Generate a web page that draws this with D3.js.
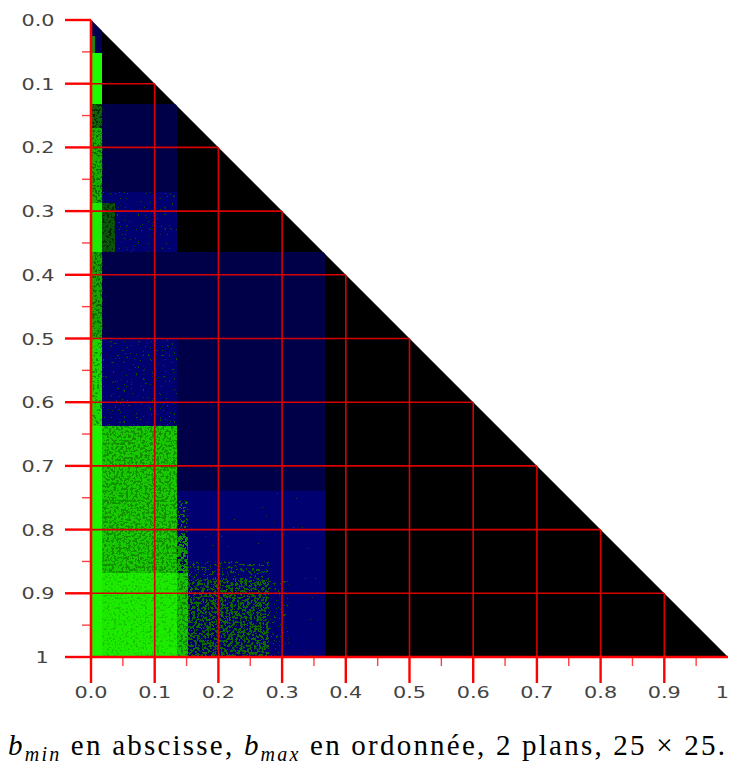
<!DOCTYPE html>
<html><head><meta charset="utf-8">
<script src="https://cdn.jsdelivr.net/npm/d3@7"></script>
<style>body{margin:0;background:#fff} svg{display:block}</style>
</head><body><svg id="chart" width="731" height="766"></svg>
<script>
// ---- data ----
const tickValues = [0, 0.1, 0.2, 0.3, 0.4, 0.5, 0.6, 0.7, 0.8, 0.9, 1];
const tickLabels = ["0.0", "0.1", "0.2", "0.3", "0.4", "0.5", "0.6", "0.7", "0.8", "0.9", "1"];
const minorTickValues = [0.05, 0.15, 0.25, 0.35, 0.45, 0.55, 0.65, 0.75, 0.85, 0.95];
const gridValues = [0.1, 0.2, 0.3, 0.4, 0.5, 0.6, 0.7, 0.8, 0.9];

const regionX0 = [0,     0,     0,     0,     0,     0.018, 0.018, 0,     0,     0,     0,     0,     0.018, 0.018, 0,     0.018, 0.135, 0.135, 0.135, 0.135, 0.152, 0.152, 0.28];
const regionX1 = [0.018, 0.006, 0.018, 0.135, 0.367, 0.135, 0.038, 0.018, 0.018, 0.018, 0.018, 0.018, 0.135, 0.135, 0.018, 0.135, 0.367, 0.152, 0.152, 0.152, 0.28,  0.28,  0.31];
const regionY0 = [0,     0.025, 0.052, 0.132, 0.364, 0.27,  0.287, 0.132, 0.17,  0.287, 0.364, 0.50,  0.50,  0.637, 0.637, 0.868, 0.74,  0.755, 0.81,  0.868, 0.85,  0.879, 0.879];
const regionY1 = [0.052, 0.052, 0.132, 0.364, 1.0,   0.364, 0.364, 0.17,  0.287, 0.364, 0.50,  0.637, 0.637, 0.868, 1.0,   1.0,   1.0,   0.81,  0.868, 1.0,   0.879, 1.0,   1.0];
const regionBaseG  = [0,   140, 250, 0,  0,  0,   85,  100, 175, 235, 165, 215, 0,   200, 245, 235, 0,   0,   0,   195, 0,   0,   0];
const regionBaseB  = [78,  20,  0,   72, 72, 112, 10,  10,  0,   0,   0,   0,   112, 0,   0,   0,   112, 110, 95,  0,   110, 100, 110];
const regionSpeckG = [0,   0,   0,   0,  0,  85,  40,  40,  110, 0,   105, 150, 85,  145, 0,   200, 80,  120, 150, 135, 100, 105, 90];
const regionShare  = [0,   0,   0,   0,  0,  0.1, 0.35,0.35,0.4, 0,   0.4, 0.3, 0.12,0.45,0,   0.3, 0.04,0.35,0.6, 0.4, 0.25,0.5, 0.15];

const captionParts = [
  {t: "b", italic: true, sub: false},
  {t: "min", italic: true, sub: true},
  {t: " en abscisse, ", italic: false, sub: false},
  {t: "b", italic: true, sub: false},
  {t: "max", italic: true, sub: true},
  {t: " en ordonnée, 2 plans, 25 × 25.", italic: false, sub: false}
];

// ---- drawing ----
const svg = d3.select("#chart");
const x = d3.scaleLinear().domain([0, 1]).range([91, 728]);
const y = d3.scaleLinear().domain([0, 1]).range([20, 657]);
const planeColor = (g, b) => d3.rgb(Math.round(g * 0.12), g, b);

function zUpper(q) {
  const qq = Math.min(Math.max(q, 1e-4), 1 - 1e-4);
  const s = qq < 0.5 ? 1 : -1;
  const p = qq < 0.5 ? qq : 1 - qq;
  const t = Math.sqrt(-2 * Math.log(p));
  return s * (t - (2.515517 + 0.802853 * t + 0.010328 * t * t) / (1 + 1.432788 * t + 0.189269 * t * t + 0.001308 * t * t * t));
}

const defs = svg.append("defs");
const tri = [[0, 0], [0, 1], [1, 1]].map(d => [x(d[0]), y(d[1])]);
defs.append("clipPath").attr("id", "tri")
  .append("polygon").attr("points", tri.map(p => p.join(",")).join(" "));

const idx = regionX0.map((d, i) => i);
idx.filter(i => regionShare[i] > 0).forEach(i => {
  const thr = 0.5 + 0.17 * zUpper(regionShare[i]);
  const S = 40;
  const f = defs.append("filter").attr("id", "sp" + i)
    .attr("x", 0).attr("y", 0).attr("width", 1).attr("height", 1)
    .attr("color-interpolation-filters", "sRGB");
  f.append("feTurbulence").attr("type", "fractalNoise").attr("baseFrequency", 0.42)
    .attr("numOctaves", 2).attr("seed", i + 3).attr("result", "n");
  f.append("feColorMatrix").attr("in", "n").attr("type", "matrix")
    .attr("values", `0 0 0 0 0  0 0 0 0 0  0 0 0 0 0  ${S} 0 0 0 ${-S * thr}`).attr("result", "m");
  f.append("feComposite").attr("in", "SourceGraphic").attr("in2", "m").attr("operator", "in");
});

svg.append("polygon").attr("points", tri.map(p => p.join(",")).join(" ")).attr("fill", "#000");

const gMap = svg.append("g").attr("clip-path", "url(#tri)");
idx.forEach(i => {
  const rx = x(regionX0[i]), ry = y(regionY0[i]);
  const w = x(regionX1[i]) - rx, h = y(regionY1[i]) - ry;
  gMap.append("rect").attr("x", rx).attr("y", ry).attr("width", w).attr("height", h)
    .attr("fill", planeColor(regionBaseG[i], regionBaseB[i])).attr("shape-rendering", "crispEdges");
  if (regionShare[i] > 0) {
    gMap.append("rect").attr("x", rx).attr("y", ry).attr("width", w).attr("height", h)
      .attr("fill", planeColor(regionSpeckG[i], 0)).attr("filter", `url(#sp${i})`);
  }
});

const gGrid = svg.append("g").attr("clip-path", "url(#tri)");
gGrid.selectAll("line.h").data(gridValues).join("line").attr("class", "h")
  .attr("x1", x(0)).attr("x2", d => x(d) + 3).attr("y1", d => y(d)).attr("y2", d => y(d))
  .attr("stroke", "#d80000").attr("stroke-width", 1.6);
gGrid.selectAll("line.v").data(gridValues).join("line").attr("class", "v")
  .attr("x1", d => x(d)).attr("x2", d => x(d)).attr("y1", d => y(d) - 3).attr("y2", y(1))
  .attr("stroke", "#d80000").attr("stroke-width", 1.6);

const red = "#ff0000";
const gAx = svg.append("g");
gAx.append("line").attr("x1", x(0)).attr("x2", x(0)).attr("y1", y(0)).attr("y2", y(1)).attr("stroke", red).attr("stroke-width", 2.6);
gAx.append("line").attr("x1", x(0)).attr("x2", x(1)).attr("y1", y(1)).attr("y2", y(1)).attr("stroke", red).attr("stroke-width", 2.6);
gAx.selectAll("line.ym").data(tickValues).join("line").attr("class", "ym")
  .attr("x1", x(0) - 26).attr("x2", x(0)).attr("y1", d => y(d)).attr("y2", d => y(d))
  .attr("stroke", red).attr("stroke-width", 2.4);
gAx.selectAll("line.yn").data(minorTickValues).join("line").attr("class", "yn")
  .attr("x1", x(0) - 9).attr("x2", x(0)).attr("y1", d => y(d)).attr("y2", d => y(d))
  .attr("stroke", red).attr("stroke-width", 1.4).attr("opacity", 0.75);
gAx.selectAll("line.xm").data(tickValues.slice(0, -1)).join("line").attr("class", "xm")
  .attr("x1", d => x(d)).attr("x2", d => x(d)).attr("y1", y(1)).attr("y2", y(1) + 26)
  .attr("stroke", red).attr("stroke-width", 2.4);
gAx.selectAll("line.xn").data(minorTickValues).join("line").attr("class", "xn")
  .attr("x1", d => x(d)).attr("x2", d => x(d)).attr("y1", y(1)).attr("y2", y(1) + 9)
  .attr("stroke", red).attr("stroke-width", 1.4).attr("opacity", 0.75);

const lab = svg.append("g").attr("style", "font-family:'DejaVu Sans';font-size:16px")
  .attr("fill", "#444");
lab.selectAll("text.yl").data(tickValues).join("text").attr("class", "yl")
  .attr("text-anchor", "middle")
  .attr("transform", (d, i) => `translate(${i === tickValues.length - 1 ? 42 : 38},${y(d) + 6}) scale(1.3,1)`)
  .text((d, i) => tickLabels[i]);
lab.selectAll("text.xl").data(tickValues).join("text").attr("class", "xl")
  .attr("text-anchor", (d, i) => i === tickValues.length - 1 ? "end" : "middle")
  .attr("transform", (d, i) => `translate(${i === tickValues.length - 1 ? 729 : x(d)},${y(1) + 41}) scale(1.3,1)`)
  .text((d, i) => tickLabels[i]);

// caption: serif face, fitted to width by the browser (no JS measuring, no transform)
const cap = svg.append("text").attr("x", 8).attr("y", 755)
  .attr("font-family", "Liberation Serif").attr("font-size", 29).attr("fill", "#000")
  .attr("textLength", 717).attr("lengthAdjust", "spacing");
captionParts.forEach((p, i) => {
  const prevSub = i > 0 && captionParts[i - 1].sub;
  cap.append("tspan")
    .attr("font-style", p.italic ? "italic" : "normal")
    .attr("font-size", p.sub ? 20 : 29)
    .attr("dy", p.sub ? 6 : (prevSub ? -6 : 0))
    .text(p.t);
});
</script></body></html>
